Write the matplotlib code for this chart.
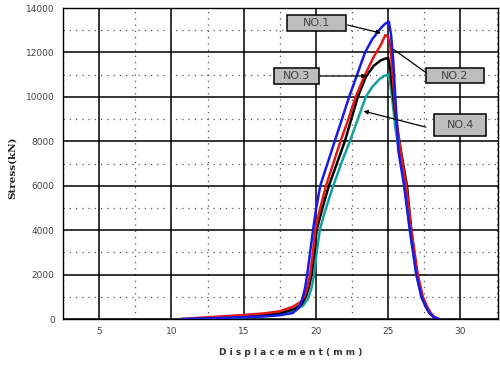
import matplotlib
matplotlib.use("Agg")
import matplotlib.pyplot as plt
from matplotlib.ticker import MultipleLocator
from matplotlib.patches import Rectangle

# ---- data ----
x_no1 = [10.7, 12, 13.5, 15, 16.5, 17.5, 18.4, 18.8, 19.05, 19.25, 19.4, 19.6, 19.8, 20.0, 20.3,
         20.8, 21.3, 21.8, 22.3, 22.85, 23.4, 23.9, 24.5, 24.8, 25.05, 25.2, 25.35, 25.45, 25.55,
         25.7, 26.1, 26.5, 26.95, 27.3, 27.6, 27.85, 28.15, 28.5]
y_no1 = [0, 20, 50, 80, 120, 170, 270, 500, 855, 1400, 2000, 3000, 4000, 4900, 6000,
         7000, 8000, 9000, 10000, 11000, 12000, 12600, 13100, 13300, 13380, 12800, 11660, 10500, 9400,
         7600, 6000, 4000, 2000, 1000, 550, 270, 80, 0]

x_no2 = [10.7, 12, 13.5, 15, 16.5, 17.5, 18.4, 18.9, 19.2, 19.4, 19.6, 19.8, 19.95, 20.3, 20.7,
         21.2, 21.7, 22.25, 22.75, 23.4, 24.0, 24.5, 24.8, 25.0, 25.15, 25.3, 25.5, 25.7, 25.85,
         26.25, 26.6, 27.05, 27.4, 27.7, 27.95, 28.2, 28.5]
y_no2 = [0, 60, 120, 180, 260, 350, 550, 750, 1000, 1400, 2000, 3000, 4000, 5000, 6000,
         7000, 8000, 9000, 10000, 11000, 11800, 12350, 12780, 12700, 12300, 11000, 9500, 8300, 7600,
         6000, 4000, 2000, 1000, 550, 270, 80, 0]

x_no3 = [11.5, 13, 15, 16.5, 17.5, 18.5, 19.0, 19.3, 19.5, 19.7, 19.9, 20.05, 20.45, 20.9, 21.45,
         22.0, 22.45, 22.9, 23.45, 24.0, 24.5, 24.8, 25.0, 25.15, 25.35, 25.6, 25.9, 26.3, 26.6,
         27.0, 27.35, 27.65, 27.9, 28.2, 28.5]
y_no3 = [0, 60, 120, 180, 250, 450, 650, 1000, 1400, 2000, 3000, 4000, 5000, 6000, 7000,
         8000, 9000, 10000, 10900, 11400, 11650, 11720, 11750, 11200, 10000, 8700, 7500, 6000, 4000,
         2000, 1000, 550, 270, 80, 0]

x_no4 = [12, 13.5, 15, 16.5, 17.5, 18.6, 19.1, 19.45, 19.7, 19.88, 20.05, 20.27, 20.6, 21.2, 21.75,
         22.35, 22.9, 23.45, 23.9, 24.4, 24.75, 25.0, 25.15, 25.3, 25.5, 25.8, 26.15, 26.5, 26.95,
         27.3, 27.6, 27.85, 28.15, 28.5]
y_no4 = [0, 40, 80, 140, 200, 400, 600, 900, 1400, 2000, 3000, 4000, 4800, 6000, 7000,
         8000, 9000, 10000, 10450, 10800, 10950, 11000, 10600, 9800, 8600, 7400, 6000, 4000, 2000,
         1000, 550, 270, 80, 0]

labels = ["NO.1", "NO.2", "NO.3", "NO.4"]
colors = ["#1a1ae6", "#e01818", "#000000", "#12a0a0"]

xticks = [5, 10, 15, 20, 25, 30]
yticks = [0, 2000, 4000, 6000, 8000, 10000, 12000, 14000]

# ---- layout (label boxes: x0, y0, width, height in data units; arrows) ----
box_geom = [(18.0, 12960, 4.05, 720), (27.6, 10620, 4.0, 680),
            (17.1, 10560, 3.1, 760), (28.2, 8230, 3.6, 980)]
arrow_start = [(22.2, 13235), (27.6, 11100), (20.3, 10940), (27.6, 8640)]
arrow_end = [(24.5, 12870), (25.35, 12150), (23.5, 10940), (23.3, 9360)]
arrow_head = [True, False, True, True]

fig = plt.figure(figsize=(5.0, 3.65), dpi=100)
ax = fig.add_axes([0.126, 0.126, 0.87, 0.852])

series = [(x_no4, y_no4), (x_no3, y_no3), (x_no2, y_no2), (x_no1, y_no1)]
for (xs, ys), c in zip(series, colors[::-1]):
    ax.plot(xs, ys, color=c, lw=1.8, zorder=3, solid_joinstyle="round")

ax.set_xlim(2.5, 32.6)
ax.set_ylim(0, 14000)
ax.set_xticks(xticks)
ax.set_yticks(yticks)
ax.xaxis.set_minor_locator(MultipleLocator(2.5))
ax.yaxis.set_minor_locator(MultipleLocator(1000))
ax.grid(which="major", color="black", lw=1.1, ls="-")
ax.grid(which="minor", color="#555555", lw=0.9, ls=(0, (1, 4)))
ax.tick_params(which="both", length=0, labelsize=6.5, labelcolor="#444444", pad=6)
for s in ax.spines.values():
    s.set_color("black")
    s.set_linewidth(1.0)

for lab, (bx, by, bw, bh), (sx, sy), (ex, ey), head in zip(
        labels, box_geom, arrow_start, arrow_end, arrow_head):
    ax.annotate("", xy=(ex, ey), xytext=(sx, sy),
                arrowprops=dict(arrowstyle="-|>" if head else "-", color="black",
                                lw=0.9, mutation_scale=6, shrinkA=0, shrinkB=0),
                zorder=4)
    ax.add_patch(Rectangle((bx, by), bw, bh, facecolor="#bdbdbd", edgecolor="black",
                           lw=1.1, zorder=5))
    ax.text(bx + bw / 2, by + bh / 2, lab, ha="center", va="center", fontsize=8,
            color="#444444", zorder=6)

fig.text(0.582, 0.035, "D i s p l a c e m e n t ( m m )", ha="center", va="center",
         fontsize=6.5, fontweight="bold", color="#333333")
fig.text(0.024, 0.54, "Stress(kN)", ha="center", va="center", rotation=90,
         fontsize=7.5, fontweight="bold", family="DejaVu Serif", color="#222222")

fig.savefig("out.png", dpi=100)
